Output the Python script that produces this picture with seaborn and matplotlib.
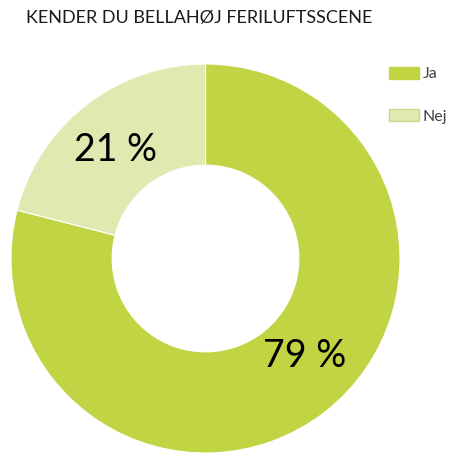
import matplotlib
matplotlib.use("Agg")
import matplotlib.pyplot as plt
import matplotlib.patches as mpatches
import seaborn as sns

# data
categories = ["Ja", "Nej"]
shares = [79, 21]
colors = ["#C1D444", "#E0E9AF"]
title = "KENDER DU BELLAHØJ FERILUFTSSCENE"

sns.set_theme(style="white")
plt.rcParams["font.family"] = ["Lato", "DejaVu Sans"]

W, H = 455, 453
fig = plt.figure(figsize=(W / 100, H / 100), dpi=100)
fig.patch.set_facecolor("white")

# axes exactly around the donut
ax = fig.add_axes([11 / W, 0 / H, 389 / W, 389 / H])
wedges, _ = ax.pie(
    shares,
    colors=colors,
    startangle=90,
    counterclock=False,
    radius=1,
    wedgeprops={"width": 0.52, "edgecolor": "white", "linewidth": 0.8},
)
ax.set_xlim(-1, 1)
ax.set_ylim(-1, 1)
ax.set_aspect("equal")
ax.axis("off")

# percentage labels
label_pos = [(0.512, -0.50), (-0.465, 0.56)]
for (x, y), val in zip(label_pos, shares):
    ax.text(x, y, f"{val} %", ha="center", va="center", fontsize=27, color="black")

fig.text(26 / W, 1 - 18 / H, title, ha="left", va="center", fontsize=13, color="#1a1a1a")

handles = [
    mpatches.Patch(facecolor=colors[0], edgecolor=colors[0], label=categories[0]),
    mpatches.Patch(facecolor=colors[1], edgecolor="#C8D98A", label=categories[1]),
]
fig.legend(
    handles=handles,
    loc="upper left",
    bbox_to_anchor=(389 / W, 1 - 67 / H),
    frameon=False,
    fontsize=11.5,
    handlelength=1.9,
    handleheight=0.75,
    handletextpad=0.2,
    labelspacing=1.75,
    borderpad=0,
    borderaxespad=0,
    labelcolor="#404040",
)

fig.savefig("out.png", dpi=100)
